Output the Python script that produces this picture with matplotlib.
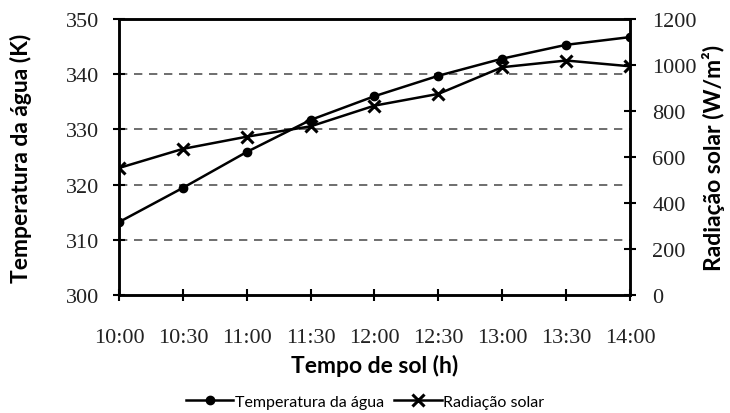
import numpy as np
import matplotlib
matplotlib.use("Agg")
import matplotlib.pyplot as plt

# Data
horas = ["10:00", "10:30", "11:00", "11:30", "12:00", "12:30", "13:00", "13:30", "14:00"]
temperatura = [313.2, 319.4, 325.9, 331.7, 336.0, 339.7, 342.8, 345.3, 346.7]
radiacao = [552, 635, 688, 733, 823, 874, 990, 1019, 994]

x = np.arange(len(horas))

fig = plt.figure(figsize=(7.3, 4.14), dpi=100)
ax = fig.add_axes([0.163, 0.285, 0.700, 0.667])
ax2 = ax.twinx()

label_font = dict(family="Lato", weight="bold", size=16.5)
tick_font = "Liberation Serif"

# left axis: water temperature
l1, = ax.plot(x, temperatura, color="black", lw=1.8, marker="o", ms=6,
              label="Temperatura da água", zorder=3)
ax.set_ylim(300, 350)
ax.set_yticks(np.arange(300, 351, 10))
ax.set_xlim(0, len(horas) - 1)
ax.set_xticks(x)
ax.set_xticklabels(horas)
for yv in [310, 320, 330, 340]:
    ax.axhline(yv, color="#555555", lw=1.2, ls=(0, (5, 4)), zorder=1)

# right axis: solar radiation
l2, = ax2.plot(x, radiacao, color="black", lw=1.8, marker="x", ms=9, mew=2.2,
               label="Radiação solar", zorder=3)
ax2.set_ylim(0, 1200)
ax2.set_yticks(np.arange(0, 1201, 200))

for a in (ax, ax2):
    for s in a.spines.values():
        s.set_linewidth(1.8)
    a.tick_params(direction="inout", length=8, width=1.5, labelsize=16)
    for t in a.get_xticklabels() + a.get_yticklabels():
        t.set_family(tick_font)
        t.set_color("#222222")
ax.tick_params(axis="x", pad=20)
ax.tick_params(axis="y", pad=10)
ax2.tick_params(axis="y", pad=12)

ax.set_ylabel("Temperatura da água (K)", **label_font)
ax2.set_ylabel("Radiação solar (W/m²)", **label_font)
ax.set_xlabel("Tempo de sol (h)", **label_font)
ax.yaxis.set_label_coords(-0.17, 0.5)
ax2.yaxis.set_label_coords(1.14, 0.5)
ax.xaxis.set_label_coords(0.5, -0.215)

fig.legend(handles=[l1, l2], loc="lower center", bbox_to_anchor=(0.5, -0.025),
           ncol=2, frameon=False, handlelength=3.0, handletextpad=0.1,
           columnspacing=0.6, prop=dict(family="Lato", size=11.5))

fig.savefig("out.png", dpi=100)
